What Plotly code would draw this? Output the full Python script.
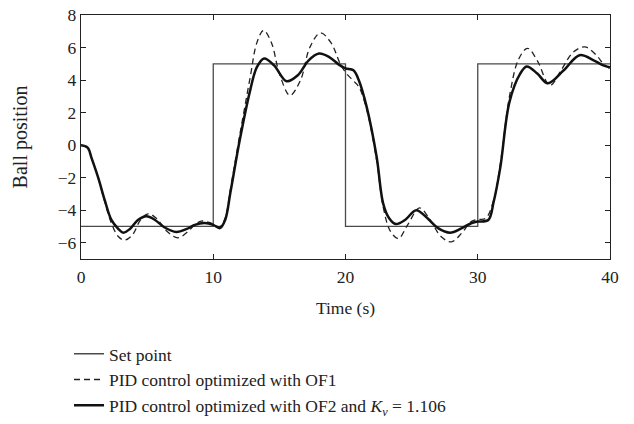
import plotly.graph_objects as go

# Set point (step reference)
t_sp = [0, 10, 10, 20, 20, 30, 30, 40]
y_sp = [-5, -5, 5, 5, -5, -5, 5, 5]

# PID control optimized with OF1 (dashed)
t_of1 = [0, 0.5, 0.8, 1.3, 1.8, 2.3, 2.8, 3.3, 3.9, 4.5, 5.07, 5.7, 6.5, 7.33, 8.1, 8.6, 9.1, 9.7,
         10.5, 10.9, 11.3, 12.0, 12.8, 13.3, 13.8, 14.4, 15.0, 15.8, 16.6, 17.3, 18.1, 18.9, 19.6,
         20.0, 20.6, 21.0, 21.6, 22.35, 22.85, 23.4, 24.0, 24.7, 25.6, 26.4, 27.2, 28.0, 28.8, 29.5,
         30.0, 30.6, 31.2, 31.7, 32.4, 33.1, 33.77, 34.5, 35.46, 36.3, 37.2, 38.1, 39.0, 39.5, 40]
y_of1 = [0, -0.15, -0.8, -2.0, -3.5, -4.8, -5.6, -5.84, -5.5, -4.6, -4.22, -4.5, -5.3, -5.7, -5.3, -4.9, -4.67, -4.75,
         -5.0, -4.5, -2.7, 0.6, 4.2, 6.3, 7.05, 6.3, 4.4, 3.06, 4.0, 6.0, 6.9, 6.3, 5.0,
         4.48, 3.95, 3.6, 2.2, -0.9, -3.8, -5.3, -5.74, -4.9, -3.86, -4.6, -5.6, -5.95, -5.4, -4.7,
         -4.57, -4.5, -3.4, -1.2, 3.0, 5.3, 5.95, 5.2, 3.67, 4.6, 5.7, 6.04, 5.5, 5.0, 4.7]

# PID control optimized with OF2 and Kv = 1.106 (thick solid)
t_of2 = [0, 0.5, 0.8, 1.3, 1.8, 2.3, 2.8, 3.2, 3.7, 4.3, 4.95, 5.6, 6.3, 7.2, 8.0, 8.6, 9.35, 10.0,
         10.5, 10.9, 11.3, 12.0, 12.8, 13.3, 13.85, 14.6, 15.55, 16.4, 17.2, 18.0, 18.8, 19.5,
         20.0, 20.6, 21.0, 21.6, 22.35, 22.85, 23.3, 23.8, 24.5, 25.35, 26.2, 27.0, 27.9, 28.8, 29.5,
         30.0, 30.8, 31.2, 31.7, 32.4, 33.2, 33.7, 34.5, 35.3, 36.5, 37.7, 38.8, 39.5, 40]
y_of2 = [0, -0.15, -0.8, -2.0, -3.4, -4.6, -5.13, -5.38, -5.15, -4.6, -4.37, -4.6, -5.05, -5.34, -5.15, -4.9, -4.79, -4.9,
         -5.1, -4.6, -2.9, 0.3, 3.4, 4.8, 5.33, 4.9, 3.93, 4.3, 5.2, 5.63, 5.4, 4.95,
         4.72, 4.6, 4.0, 2.35, -0.7, -3.6, -4.5, -4.85, -4.6, -4.0, -4.5, -5.1, -5.38, -5.1, -4.8,
         -4.7, -4.6, -3.5, -1.4, 2.66, 4.38, 4.84, 4.4, 3.8, 4.6, 5.53, 5.2, 4.9, 4.78]

x_ticks = [0, 10, 20, 30, 40]
y_ticks = [-6, -4, -2, 0, 2, 4, 6, 8]

FONT = "Liberation Serif, Times New Roman, serif"
FS = 17.5

fig = go.Figure()
fig.add_trace(go.Scatter(x=t_sp, y=y_sp, mode="lines", name="Set point",
                         line=dict(color="#4a4a4a", width=1.3)))
fig.add_trace(go.Scatter(x=t_of1, y=y_of1, mode="lines", name="PID control optimized with OF1",
                         line=dict(color="#222222", width=1.3, dash="6px,4px", shape="spline", smoothing=1.0)))
fig.add_trace(go.Scatter(x=t_of2, y=y_of2, mode="lines",
                         name="PID control optimized with OF2 and <i>K</i><sub><i>v</i></sub> = 1.106",
                         line=dict(color="#111111", width=2.5, shape="spline", smoothing=1.0)))

axis_common = dict(showgrid=False, zeroline=False, showline=True, linecolor="#222222", linewidth=1.4,
                   mirror="ticks", ticks="inside", ticklen=5, tickcolor="#222222", tickwidth=1,
                   automargin=False, ticklabeloverflow="allow",
                   tickfont=dict(family=FONT, size=FS, color="#222222"))

fig.update_layout(
    width=634, height=440,
    margin=dict(l=73, r=32, t=7, b=189),
    paper_bgcolor="white", plot_bgcolor="white",
    font=dict(family=FONT, size=FS, color="#222222"),
    xaxis=dict(range=[0, 40], tickvals=x_ticks, ticklabelstandoff=2,
               title=dict(text="Time (s)", font=dict(family=FONT, size=FS), standoff=15),
               **axis_common),
    yaxis=dict(range=[-7, 8], tickvals=y_ticks,
               title=dict(text="Ball position", font=dict(family=FONT, size=20), standoff=24),
               **axis_common),
    showlegend=True,
    legend=dict(x=-0.0227, y=-0.315, xanchor="left", yanchor="top", bgcolor="rgba(0,0,0,0)",
                font=dict(family=FONT, size=FS, color="#222222"), itemwidth=30),
)

fig.write_html("out.html")
